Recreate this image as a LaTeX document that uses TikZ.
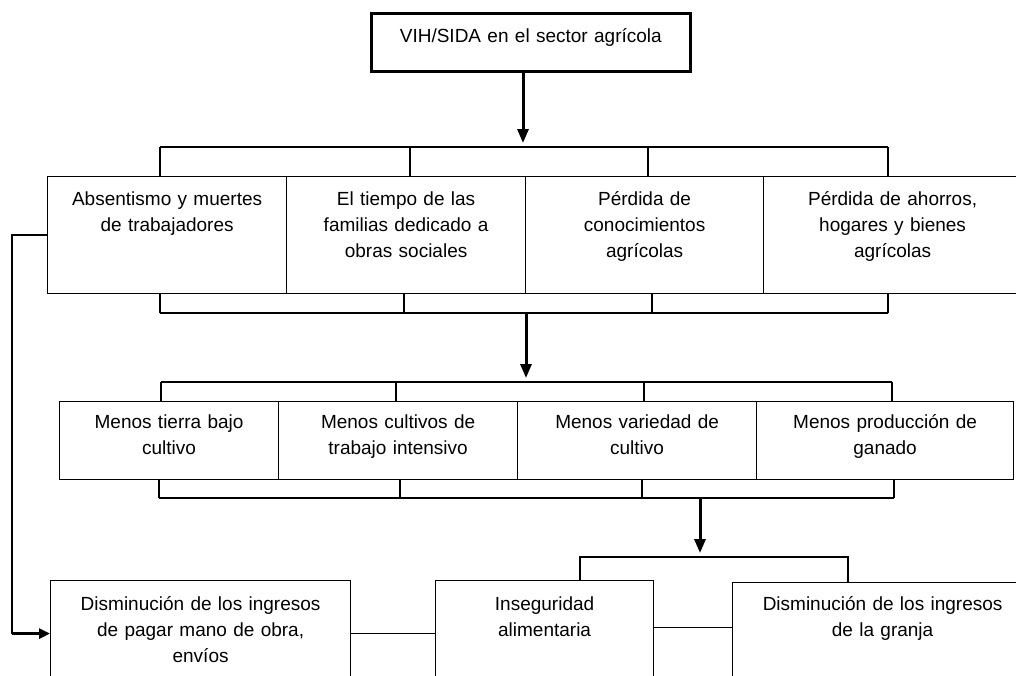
\documentclass[tikz,border=0pt]{standalone}
\usepackage{fontspec}
\setmainfont{Liberation Sans}
\usetikzlibrary{arrows.meta}

\tikzset{
  caja/.style={draw, line width=1.2pt, anchor=north west, inner sep=0pt},
  texto/.style={anchor=base, inner sep=0pt, text width=280pt, align=center,
    font=\fontsize{19}{26}\selectfont},
  linea/.style={line width=1.2pt},
  flecha/.style={line width=3pt, -{Triangle[width=11pt,length=14pt]}, shorten >=4pt},
}

\begin{document}
\begin{tikzpicture}[x=1pt,y=-1pt]
% Marco
\useasboundingbox (0,0) rectangle (1016,675);
\clip (0,0) rectangle (1016,675);
% Caja superior
\node[caja, line width=2.6pt, minimum width=319pt, minimum height=58pt] (vih) at (370,12) {};
\node[texto] (vih-t) at ([yshift=-30pt]vih.north) {VIH/SIDA en el sector agrícola};
% Primera fila
\node[caja, minimum width=239pt, minimum height=117pt] (absen) at (47,176) {};
\node[caja, minimum width=239pt, minimum height=117pt] (tiempo) at (286,176) {};
\node[caja, minimum width=238pt, minimum height=117pt] (conoc) at (525,176) {};
\node[caja, minimum width=258pt, minimum height=117pt] (ahorr) at (763,176) {};
\node[texto] (absen-t) at ([yshift=-29pt]absen.north) {Absentismo y muertes\\de trabajadores};
\node[texto] (tiempo-t) at ([yshift=-29pt]tiempo.north) {El tiempo de las\\familias dedicado a\\obras sociales};
\node[texto] (conoc-t) at ([yshift=-29pt]conoc.north) {Pérdida de\\conocimientos\\agrícolas};
\node[texto] (ahorr-t) at ([yshift=-29pt]ahorr.north) {Pérdida de ahorros,\\hogares y bienes\\agrícolas};
% Segunda fila
\node[caja, minimum width=219pt, minimum height=78pt] (tierra) at (59,401) {};
\node[caja, minimum width=239pt, minimum height=78pt] (intens) at (278,401) {};
\node[caja, minimum width=239pt, minimum height=78pt] (varied) at (517,401) {};
\node[caja, minimum width=257pt, minimum height=78pt] (ganado) at (756,401) {};
\node[texto] (tierra-t) at ([yshift=-27pt]tierra.north) {Menos tierra bajo\\cultivo};
\node[texto] (intens-t) at ([yshift=-27pt]intens.north) {Menos cultivos de\\trabajo intensivo};
\node[texto] (varied-t) at ([yshift=-27pt]varied.north) {Menos variedad de\\cultivo};
\node[texto] (ganado-t) at ([yshift=-27pt]ganado.north) {Menos producción de\\ganado};
% Fila inferior
\node[caja, minimum width=300pt, minimum height=106pt] (pagar) at (50,580) {};
\node[caja, minimum width=218pt, minimum height=106pt] (insegu) at (435,580) {};
\node[caja, minimum width=300pt, minimum height=120pt] (granja) at (732,582) {};
\node[texto] (pagar-t) at ([yshift=-30pt]pagar.north) {Disminución de los ingresos\\de pagar mano de obra,\\envíos};
\node[texto] (insegu-t) at ([yshift=-30pt]insegu.north) {Inseguridad\\alimentaria};
\node[texto] (granja-t) at ([yshift=-28pt]granja.north) {Disminución de los ingresos\\de la granja};
% Puntos de las barras
\coordinate (j1) at (523,147);
\coordinate (j2) at (526,313);
\coordinate (j3) at (526,382);
\coordinate (j4) at (700,498);
\coordinate (j5) at (700,557);
% Barras de la primera fila
\draw[linea] (160,0 |- j1) -- (888,0 |- j1);
\draw[linea] (160,0 |- j2) -- (888,0 |- j2);
\foreach \n/\a/\b in {absen/160/160, tiempo/410/404, conoc/648/652, ahorr/888/888}{
  \draw[linea] (\a,0 |- j1) -- (\a,0 |- \n.north);
  \draw[linea] (\b,0 |- \n.south) -- (\b,0 |- j2);}
% Barras de la segunda fila
\draw[linea] (161,0 |- j3) -- (892,0 |- j3);
\draw[linea] (159,0 |- j4) -- (894,0 |- j4);
\foreach \n/\a/\b in {tierra/161/159, intens/396/400, varied/644/642, ganado/892/894}{
  \draw[linea] (\a,0 |- j3) -- (\a,0 |- \n.north);
  \draw[linea] (\b,0 |- \n.south) -- (\b,0 |- j4);}
% Barra de la fila inferior
\draw[linea] (580,0 |- insegu.north) -- (580,0 |- j5) -- (848,0 |- j5) -- (848,0 |- granja.north);
% Flechas
\draw[flecha] (vih.south -| j1) -- (j1);
\draw[flecha] (j2) -- (j3);
\draw[flecha] (j4) -- (j5);
% Conexiones de abajo
\draw[linea] (pagar.east) -- (insegu.west);
\draw[linea] ([yshift=6pt]insegu.east) -- ([yshift=6pt]insegu.east -| granja.west);
% Retorno lateral
\draw[linea, line width=1.6pt] (absen.west) -- (12,0 |- absen.west) -- (12,0 |- pagar.west);
\draw[line width=2.6pt, -{Triangle[width=10pt,length=11pt]}] (12,0 |- pagar.west) -- (pagar.west);
\end{tikzpicture}
\end{document}
